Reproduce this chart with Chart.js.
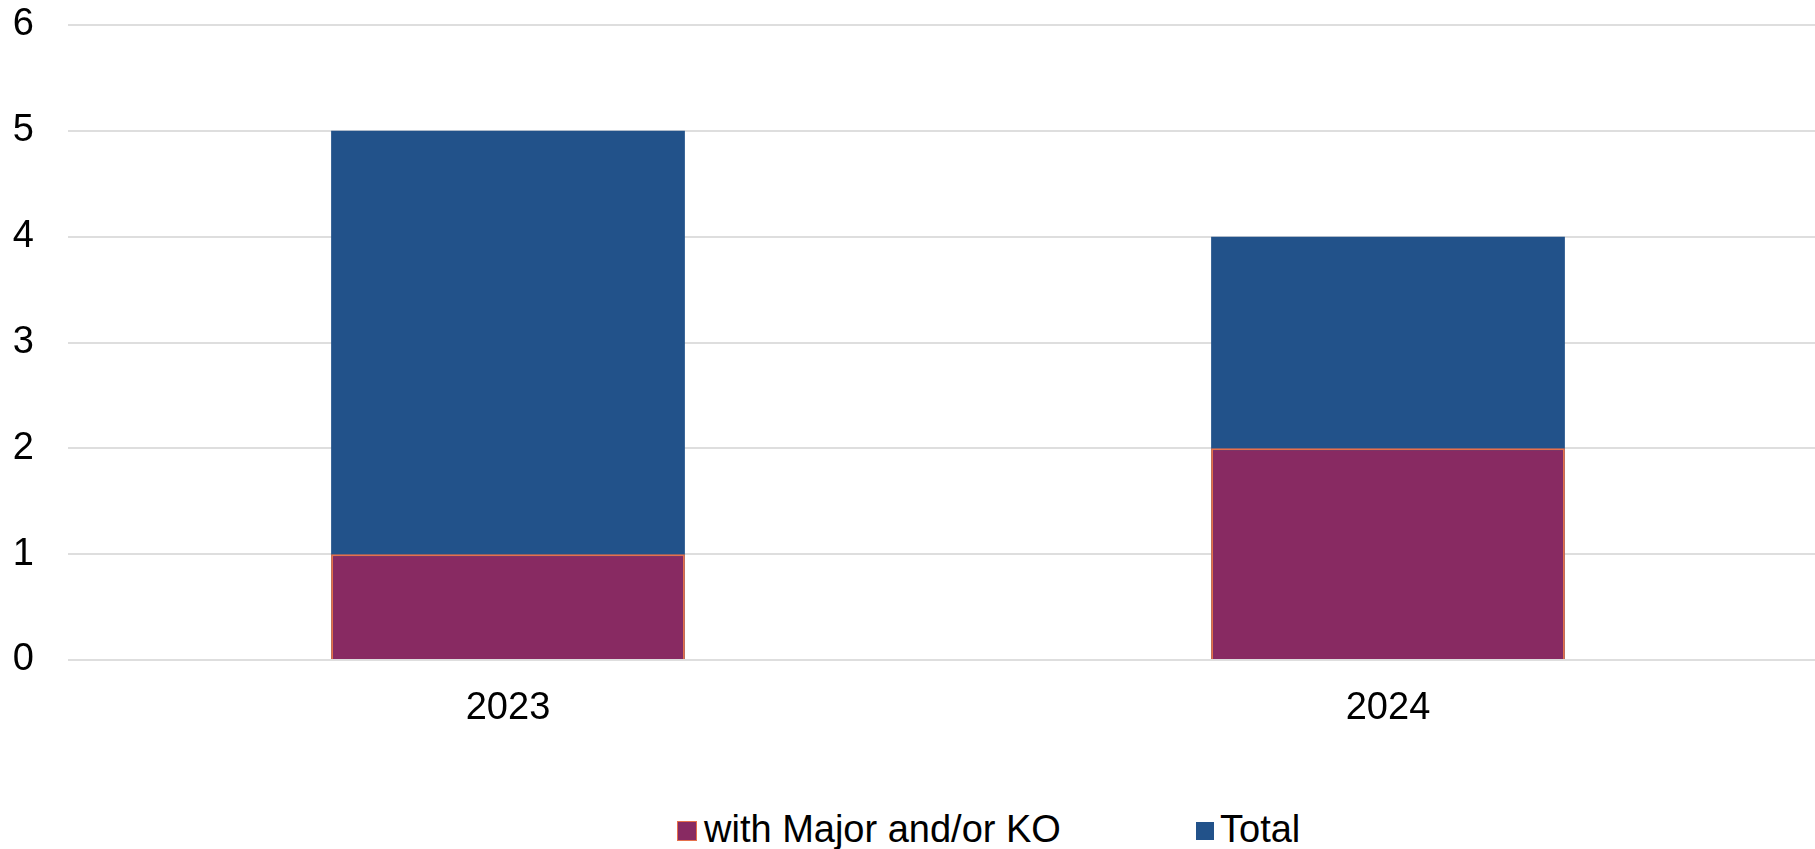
<!DOCTYPE html>
<html>
<head>
<meta charset="utf-8">
<script src="https://cdn.jsdelivr.net/npm/chart.js@4/dist/chart.umd.min.js"></script>
<style>
  html, body { margin: 0; padding: 0; background: #fff; overflow: hidden; }
  #wrap { position: relative; width: 1828px; height: 849px; }
  #zona { position: absolute; left: 0; top: 0; width: 1828px; height: 730px; }
  .ley-caja { position: absolute; box-sizing: border-box; }
  .ley-texto { position: absolute; font-family: "Liberation Sans", Arial, sans-serif; font-size: 38px; line-height: 38px; color: #000; white-space: nowrap; }
</style>
</head>
<body>
<div id="wrap">
  <div id="zona"><canvas id="grafico"></canvas></div>
  <!-- leyenda armada a mano para que quede igual que la original -->
  <div class="ley-caja" style="left:677px; top:821px; width:20px; height:20px; background:#882A62; border:1.5px solid #E6704C;"></div>
  <div class="ley-texto" id="ley-0" style="left:704px; top:810px;"></div>
  <div class="ley-caja" style="left:1196px; top:822px; width:18px; height:18px; background:#22528A;"></div>
  <div class="ley-texto" id="ley-1" style="left:1220px; top:810px;"></div>
</div>
<script>
// datos del grafico
const anios = ["2023", "2024"];
const conMajorKO = [1, 2];
const total = [5, 4];
const nombresSeries = ["with Major and/or KO", "Total"];
const ticksY = [0, 1, 2, 3, 4, 5, 6];

const fuente = "'Liberation Sans', Arial, sans-serif";

document.getElementById("ley-0").textContent = nombresSeries[0];
document.getElementById("ley-1").textContent = nombresSeries[1];

const canvas = document.getElementById("grafico");

new Chart(canvas, {
  type: "bar",
  data: {
    labels: anios,
    datasets: [
      {
        label: nombresSeries[0],
        data: conMajorKO,
        backgroundColor: "#882A62",
        borderColor: "#E6704C",
        borderWidth: 2,
        barPercentage: 0.402,
        categoryPercentage: 1,
      },
      {
        label: nombresSeries[1],
        data: total,
        backgroundColor: "#22528A",
        borderWidth: 0,
        barPercentage: 0.402,
        categoryPercentage: 1,
      },
    ],
  },
  options: {
    responsive: true,
    maintainAspectRatio: false,
    animation: false,
    layout: { padding: { top: 25, right: 0, bottom: 0, left: 0 } },
    plugins: {
      legend: { display: false },
      tooltip: { enabled: false },
    },
    scales: {
      x: {
        stacked: true, // las barras se superponen en la misma posicion
        grid: { display: false, drawTicks: false },
        border: { display: false },
        ticks: { color: "#000", font: { family: fuente, size: 38 }, padding: 26 },
        afterFit: (s) => { s.height = 70; s.paddingLeft = 0; s.paddingRight = 0; },
      },
      y: {
        stacked: false,
        min: ticksY[0],
        max: ticksY[ticksY.length - 1],
        afterBuildTicks: (s) => { s.ticks = ticksY.map((v) => ({ value: v })); },
        grid: { color: "#dedede", lineWidth: 2, drawTicks: false },
        border: { display: false },
        ticks: { color: "#000", font: { family: fuente, size: 38 }, padding: 34 },
        afterFit: (s) => { s.width = 68; s.paddingTop = 0; s.paddingBottom = 0; },
      },
    },
  },
});
</script>
</body>
</html>
